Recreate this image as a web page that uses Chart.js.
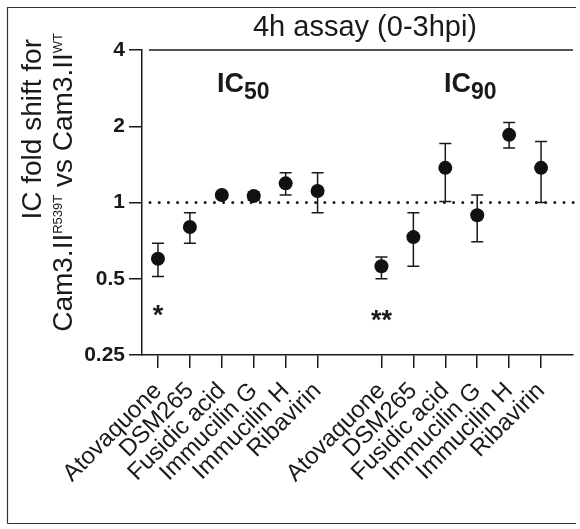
<!DOCTYPE html>
<html>
<head>
<meta charset="utf-8">
<script src="https://cdn.jsdelivr.net/npm/chart.js@4.4.1/dist/chart.umd.min.js"></script>
<style>
  html, body { margin: 0; padding: 0; background: #fff; }
  #wrap { width: 580px; height: 529px; }
</style>
</head>
<body>
<div id="wrap"><canvas id="chart" width="580" height="529"></canvas></div>
<script>
// drugs, same order in both groups
const drugs = ["Atovaquone", "DSM265", "Fusidic acid", "Immucilin G", "Immucilin H", "Ribavirin"];
const ic50Pos = [0, 1, 2, 3, 4, 5];
const ic90Pos = [7, 8, 9, 10, 11, 12];

// fold shift, mean and error bar ends
const ic50Fold = [0.60, 0.80, 1.07, 1.06, 1.19, 1.11];
const ic50Low  = [0.51, 0.69, 1.04, 1.02, 1.07, 0.91];
const ic50High = [0.69, 0.91, 1.09, 1.10, 1.31, 1.31];

const ic90Fold = [0.56, 0.73, 1.37, 0.89, 1.85, 1.37];
const ic90Low  = [0.50, 0.56, 1.01, 0.70, 1.64, 1.00];
const ic90High = [0.61, 0.91, 1.71, 1.07, 2.07, 1.74];

const yTicks = [0.25, 0.5, 1, 2, 4];
const yTickLabels = ["0.25", "0.5", "1", "2", "4"];
const xTickPos = ic50Pos.concat(ic90Pos);
const xTickLabels = drugs.concat(drugs);

const titleText = "4h assay (0-3hpi)";
const FONT = '"Liberation Sans", Arial, Helvetica, sans-serif';
const INK = "#1a1a1a";

function toPoints(pos, vals) {
    return pos.map((p, i) => ({ x: p, y: vals[i] }));
}

// draws segments of text one after another; returns the end x
function drawSegments(ctx, segs, x0, y0) {
    let x = x0;
    segs.forEach(s => {
        ctx.font = s.font;
        ctx.fillText(s.text, x, y0 + (s.dy || 0));
        x += ctx.measureText(s.text).width;
    });
    return x;
}

function segWidth(ctx, segs) {
    let w = 0;
    segs.forEach(s => { ctx.font = s.font; w += ctx.measureText(s.text).width; });
    return w;
}

const decorPlugin = {
    id: "decor",
    beforeDatasetsDraw(chart) {
        const { ctx, chartArea, scales } = chart;
        const y1 = scales.y.getPixelForValue(1);
        ctx.save();
        // dotted reference line at 1
        ctx.strokeStyle = INK;
        ctx.lineWidth = 3;
        ctx.lineCap = "round";
        ctx.setLineDash([0, 9.2]);
        ctx.beginPath();
        ctx.moveTo(chartArea.left + 8, y1);
        ctx.lineTo(chartArea.right + 2, y1);
        ctx.stroke();
        ctx.setLineDash([]);

        // error bars
        ctx.lineWidth = 1.5;
        ctx.lineCap = "butt";
        chart.data.datasets.forEach(ds => {
            ds.data.forEach((pt, i) => {
                const x = scales.x.getPixelForValue(pt.x);
                const yl = scales.y.getPixelForValue(ds.errLow[i]);
                const yh = scales.y.getPixelForValue(ds.errHigh[i]);
                ctx.beginPath();
                ctx.moveTo(x, yl); ctx.lineTo(x, yh);
                ctx.moveTo(x - 6, yl); ctx.lineTo(x + 6, yl);
                ctx.moveTo(x - 6, yh); ctx.lineTo(x + 6, yh);
                ctx.stroke();
            });
        });
        ctx.restore();
    },
    afterDraw(chart) {
        const { ctx, chartArea, scales } = chart;
        ctx.save();

        // outer frame
        ctx.strokeStyle = "#333";
        ctx.lineWidth = 1.2;
        ctx.beginPath();
        ctx.moveTo(7.5, 523.5);
        ctx.lineTo(7.5, 7.5);
        ctx.lineTo(576, 7.5);
        ctx.moveTo(7.5, 523.5);
        ctx.lineTo(576, 523.5);
        ctx.stroke();

        // title and its line
        ctx.fillStyle = INK;
        ctx.textAlign = "center";
        ctx.textBaseline = "alphabetic";
        ctx.font = "29px " + FONT;
        ctx.fillText(titleText, 365, 36);
        ctx.strokeStyle = INK;
        ctx.lineWidth = 1.5;
        ctx.beginPath();
        ctx.moveTo(chartArea.left + 7, chartArea.top);
        ctx.lineTo(chartArea.right, chartArea.top);
        ctx.stroke();

        // y axis title, two rotated lines
        ctx.textAlign = "left";
        const main = "28px " + FONT;
        const sup = "13px " + FONT;
        const line1 = [{ text: "IC fold shift for", font: main }];
        const line2 = [
            { text: "Cam3.II", font: main },
            { text: "R539T", font: sup, dy: -10 },
            { text: " vs Cam3.II", font: main },
            { text: "WT", font: sup, dy: -10 }
        ];
        [[line1, 41, 39], [line2, 72, 33]].forEach(([segs, bx, endY]) => {
            ctx.save();
            ctx.translate(bx, endY);
            ctx.rotate(-Math.PI / 2);
            drawSegments(ctx, segs, -segWidth(ctx, segs), 0);
            ctx.restore();
        });

        // IC50 / IC90 group labels
        const big = "bold 27px " + FONT;
        const sub = "bold 23px " + FONT;
        drawSegments(ctx, [{ text: "IC", font: big }, { text: "50", font: sub, dy: 7 }], 217, 92);
        drawSegments(ctx, [{ text: "IC", font: big }, { text: "90", font: sub, dy: 7 }], 444, 92);

        // significance marks under Atovaquone
        ctx.textAlign = "center";
        ctx.font = "bold 27px " + FONT;
        ctx.fillText("*", scales.x.getPixelForValue(ic50Pos[0]), 324);
        ctx.fillText("**", scales.x.getPixelForValue(ic90Pos[0]), 329);

        ctx.restore();
    }
};

const pointStyle = {
    showLine: false,
    pointRadius: 7,
    pointHoverRadius: 7,
    pointBackgroundColor: "#111",
    pointBorderColor: "#111",
    pointBorderWidth: 0
};

new Chart(document.getElementById("chart"), {
    type: "scatter",
    data: {
        datasets: [
            Object.assign({ label: "IC50", data: toPoints(ic50Pos, ic50Fold), errLow: ic50Low, errHigh: ic50High }, pointStyle),
            Object.assign({ label: "IC90", data: toPoints(ic90Pos, ic90Fold), errLow: ic90Low, errHigh: ic90High }, pointStyle)
        ]
    },
    options: {
        responsive: false,
        animation: false,
        devicePixelRatio: 1,
        layout: { padding: { left: 0, top: 50, right: 5, bottom: 0 } },
        plugins: {
            legend: { display: false },
            tooltip: { enabled: false },
            title: { display: false }
        },
        scales: {
            x: {
                type: "linear",
                min: -0.5,
                max: 13,
                afterBuildTicks: s => { s.ticks = xTickPos.map(v => ({ value: v })); },
                afterFit: s => { s.height = 174; },
                ticks: {
                    autoSkip: false,
                    minRotation: 45,
                    maxRotation: 45,
                    padding: 9,
                    color: INK,
                    font: { family: FONT, size: 24 },
                    callback: (v, i) => xTickLabels[i]
                },
                grid: { display: true, drawOnChartArea: false, drawTicks: true, tickLength: 13, color: INK, lineWidth: 1.5 },
                border: { display: true, color: INK, width: 1.5 }
            },
            y: {
                type: "logarithmic",
                min: 0.25,
                max: 4,
                afterBuildTicks: s => { s.ticks = yTicks.map(v => ({ value: v })); },
                afterFit: s => { s.width = 142; },
                ticks: {
                    autoSkip: false,
                    padding: 4,
                    color: INK,
                    font: { family: FONT, size: 21, weight: "bold" },
                    callback: (v, i) => yTickLabels[i]
                },
                grid: { display: true, drawOnChartArea: false, drawTicks: true, tickLength: 13, color: INK, lineWidth: 1.5 },
                border: { display: true, color: INK, width: 1.5 }
            }
        }
    },
    plugins: [decorPlugin]
});
</script>
</body>
</html>
